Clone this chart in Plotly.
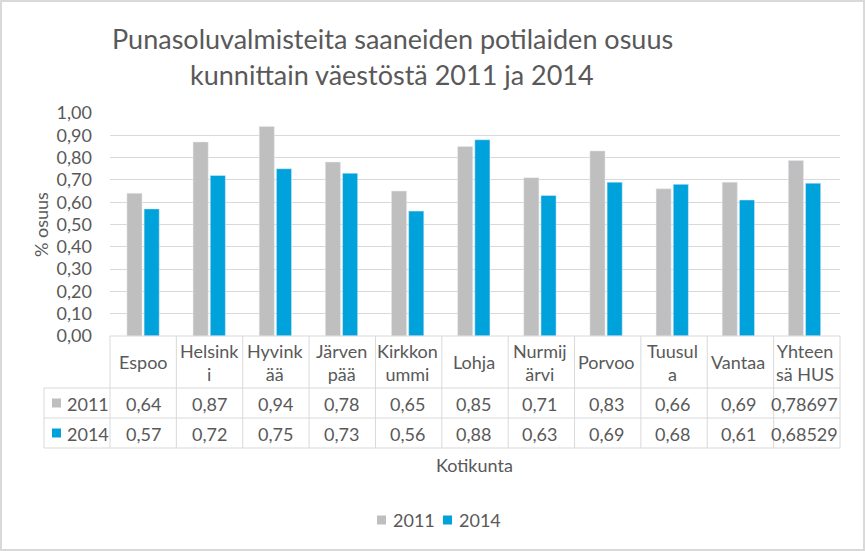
import plotly.graph_objects as go

categories = ["Espoo", "Helsinki", "Hyvinkää", "Järvenpää", "Kirkkonummi", "Lohja",
              "Nurmijärvi", "Porvoo", "Tuusula", "Vantaa", "Yhteensä HUS"]
cat_labels = ["Espoo", "Helsink<br>i", "Hyvink<br>ää", "Järven<br>pää", "Kirkkon<br>ummi", "Lohja",
              "Nurmij<br>ärvi", "Porvoo", "Tuusul<br>a", "Vantaa", "Yhteen<br>sä HUS"]
values_2011 = [0.64, 0.87, 0.94, 0.78, 0.65, 0.85, 0.71, 0.83, 0.66, 0.69, 0.78697]
values_2014 = [0.57, 0.72, 0.75, 0.73, 0.56, 0.88, 0.63, 0.69, 0.68, 0.61, 0.68529]
labels_2011 = ["0,64", "0,87", "0,94", "0,78", "0,65", "0,85", "0,71", "0,83", "0,66", "0,69", "0,78697"]
labels_2014 = ["0,57", "0,72", "0,75", "0,73", "0,56", "0,88", "0,63", "0,69", "0,68", "0,61", "0,68529"]
series_names = ["2011", "2014"]
y_ticks = [0.0, 0.1, 0.2, 0.3, 0.4, 0.5, 0.6, 0.7, 0.8, 0.9, 1.0]
title_lines = ["Punasoluvalmisteita saaneiden potilaiden osuus", "kunnittain väestöstä 2011 ja 2014"]

C11 = "#BFBFBF"
C14 = "#00A2DB"
TXT = "#595959"
GRID = "#D9D9D9"
FONT = "Lato"
FS = 18

W, H = 865, 551
L, R, T, B = 110, 840, 113, 336


def px(x):
    return (x - L) / (R - L)


def py(y):
    return (B - y) / (B - T)


fig = go.Figure()
fig.add_trace(go.Bar(x=categories, y=values_2011, name=series_names[0], marker_color=C11))
fig.add_trace(go.Bar(x=categories, y=values_2014, name=series_names[1], marker_color=C14))

shapes = []
ann = []
line = dict(color=GRID, width=1)
# table horizontal lines
for yy, x0 in [(B, L), (388, 44), (418, 44), (448, 44)]:
    shapes.append(dict(type="line", xref="paper", yref="paper", x0=px(x0), x1=px(R), y0=py(yy), y1=py(yy), line=line))
# vertical lines
n = len(categories)
for i in range(n + 1):
    xx = L + (R - L) * i / n
    shapes.append(dict(type="line", xref="paper", yref="paper", x0=px(xx), x1=px(xx), y0=py(B), y1=py(448), line=line))
shapes.append(dict(type="line", xref="paper", yref="paper", x0=px(44), x1=px(44), y0=py(388), y1=py(448), line=line))
# legend keys in table
for yc, col in [(403, C11), (433, C14)]:
    shapes.append(dict(type="rect", xref="paper", yref="paper", x0=px(52), x1=px(61), y0=py(yc - 4.5), y1=py(yc + 4.5),
                       fillcolor=col, line=dict(width=0)))
# bottom legend keys
for xl, col in [(377, C11), (443, C14)]:
    shapes.append(dict(type="rect", xref="paper", yref="paper", x0=px(xl), x1=px(xl + 9), y0=py(515.5), y1=py(524.5),
                       fillcolor=col, line=dict(width=0)))
# outer frame
shapes.append(dict(type="rect", xref="paper", yref="paper", x0=px(1), x1=px(W - 1), y0=py(1), y1=py(H - 1),
                   line=dict(color=GRID, width=2), layer="below"))

f16 = dict(family=FONT, size=FS, color=TXT)
for i, c in enumerate(categories):
    ann.append(dict(x=c, xref="x", y=py(362), yref="paper", text=cat_labels[i], showarrow=False,
                    font=f16, xanchor="center", yanchor="middle"))
    ann.append(dict(x=c, xref="x", y=py(404), yref="paper", text=labels_2011[i], showarrow=False,
                    font=f16, xanchor="center", yanchor="middle"))
    ann.append(dict(x=c, xref="x", y=py(434), yref="paper", text=labels_2014[i], showarrow=False,
                    font=f16, xanchor="center", yanchor="middle"))
ann.append(dict(x=px(65), xref="paper", y=py(404), yref="paper", text=series_names[0], showarrow=False,
                font=f16, xanchor="left", yanchor="middle"))
ann.append(dict(x=px(65), xref="paper", y=py(434), yref="paper", text=series_names[1], showarrow=False,
                font=f16, xanchor="left", yanchor="middle"))
# bottom legend text
for xt, name in [(391, series_names[0]), (457, series_names[1])]:
    ann.append(dict(x=px(xt), xref="paper", y=py(520), yref="paper", text=name, showarrow=False,
                    font=f16, xanchor="left", yanchor="middle"))
# x axis title
ann.append(dict(x=px(474), xref="paper", y=py(465), yref="paper", text="Kotikunta", showarrow=False,
                font=f16, xanchor="center", yanchor="middle"))
# y axis title
ann.append(dict(x=px(41), xref="paper", y=py(225), yref="paper", text="% osuus", showarrow=False, textangle=-90,
                font=f16, xanchor="center", yanchor="middle"))
# title
for yt, t in zip([39, 75], title_lines):
    ann.append(dict(x=px(392), xref="paper", y=py(yt), yref="paper", text=t,
                    showarrow=False, font=dict(family=FONT, size=27, color=TXT), xanchor="center", yanchor="middle"))

fig.update_layout(
    width=W, height=H,
    margin=dict(l=L, r=W - R, t=T, b=H - B, pad=0),
    paper_bgcolor="white", plot_bgcolor="white",
    separators=", ",
    barmode="group", bargap=0.48, bargroupgap=0.12,
    showlegend=False,
    xaxis=dict(showticklabels=False, showgrid=False, zeroline=False, showline=False, ticks=""),
    yaxis=dict(range=[0, 1.0], tickvals=y_ticks, tickformat=".2f", showgrid=True, gridcolor=GRID, gridwidth=1,
               zeroline=False, showline=False, ticks="", ticklabelstandoff=17,
               tickfont=dict(family=FONT, size=FS, color=TXT)),
    shapes=shapes, annotations=ann,
)

fig.write_html("out.html", config={"displayModeBar": False},
               post_script="document.body.style.margin='0';document.body.style.overflow='hidden';")
